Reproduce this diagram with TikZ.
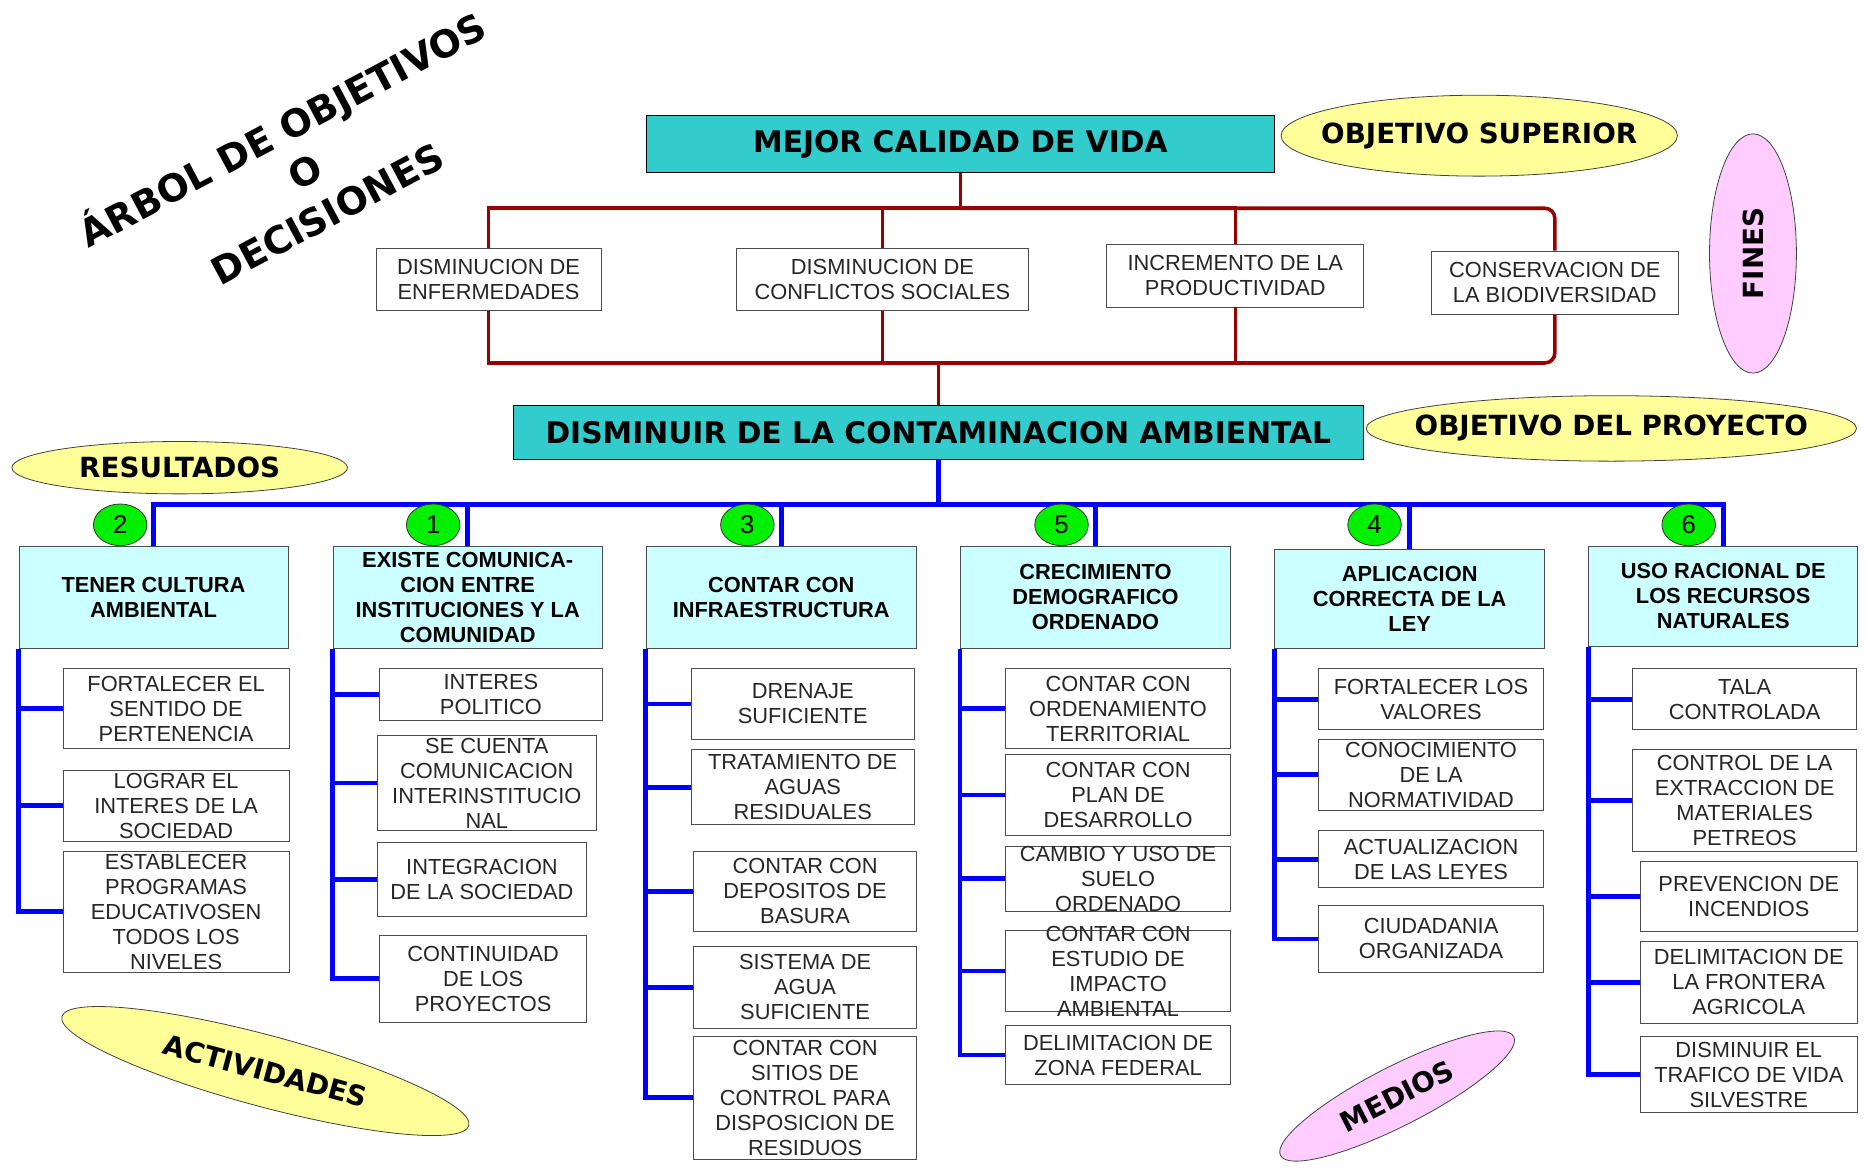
\documentclass[tikz,border=0pt]{standalone}
\usepackage{fontspec}
\setmainfont{Liberation Sans}
\newfontfamily\headfont{DejaVu Sans}
\usepackage{tikz}
\usetikzlibrary{calc,positioning,shapes.geometric}
\definecolor{tealc}{HTML}{33CCCC}
\definecolor{cyanl}{HTML}{CCFFFF}
\definecolor{yellowc}{HTML}{FFFF99}
\definecolor{pinkc}{HTML}{FFCCFF}
\definecolor{greenc}{HTML}{00F000}
\definecolor{redc}{HTML}{990000}
\newdimen\pxu \pxu=0.6pt
\newcommand{\abox}[3]{\parbox[c][#2\pxu][c]{#1\pxu}{\centering #3}}
\newcommand{\olab}[1]{\makebox[0pt]{#1}}

\begin{document}
\begin{tikzpicture}[x=0.6pt, y=-0.6pt,
    sz/.style 2 args={minimum width=#1*0.6pt, minimum height=#2*0.6pt},
    headbox/.style={draw=black, fill=tealc, inner sep=0pt, font=\headfont\bfseries\fontsize{15}{18}\selectfont},
    ovalbox/.style={ellipse, draw=black!75, inner sep=0pt, font=\headfont\bfseries\fontsize{14}{16}\selectfont},
    finbox/.style={draw=black!70, fill=white, inner sep=0pt, text=black!85, font=\fontsize{11}{12.6}\selectfont},
    resbox/.style={finbox, fill=cyanl, text=black, font=\bfseries\fontsize{11}{12.6}\selectfont},
    numbox/.style={ellipse, draw=black!80, fill=greenc, inner sep=0pt, sz={45}{35}, font=\fontsize{13}{15}\selectfont},
    redl/.style={draw=redc, line width=1.8pt},
    bluel/.style={draw=blue, line width=2.4pt}]
    \useasboundingbox (0,0) rectangle (1568,983);

    \node[align=center, rotate=28, font=\headfont\bfseries\fontsize{19}{24}\selectfont] (ttl) at (255,142) {ÁRBOL DE OBJETIVOS\\O\\DECISIONES};

    \node[headbox, sz={528}{48}] (mejor) at (807,121) {MEJOR CALIDAD DE VIDA};
    \node[ovalbox, fill=yellowc, sz={333}{68}] (sup) at (1243,114) {\olab{OBJETIVO SUPERIOR}};
    \node[ovalbox, fill=pinkc, sz={73}{201}] (fines) at (1473,213) {\rotatebox{90}{FINES}};

    \node[finbox] (f1) at (410.5,235) {\abox{189}{52}{DISMINUCION DE\\ENFERMEDADES}};
    \node[finbox] (f2) at (741.5,235) {\abox{245}{52}{DISMINUCION DE\\CONFLICTOS SOCIALES}};
    \node[finbox] (f3) at (1038,231.5) {\abox{216}{53}{INCREMENTO DE LA\\PRODUCTIVIDAD}};
    \node[finbox] (f4) at (1306.5,237.5) {\abox{207}{53}{CONSERVACION DE\\LA BIODIVERSIDAD}};

    \node[headbox, sz={715}{45}] (proy) at (788.5,363.5) {DISMINUIR DE LA CONTAMINACION AMBIENTAL};
    \node[ovalbox, fill=yellowc, sz={412}{55}] (objp) at (1354,360) {\olab{OBJETIVO DEL PROYECTO}};
    \node[ovalbox, fill=yellowc, sz={282}{44}] (resl) at (151,393) {\olab{RESULTADOS}};

    \coordinate (rtop) at (807,175);
    \coordinate (rbot) at (788.5,305);
    \draw[redl] (mejor.south) -- (rtop);
    \draw[redl] (rtop) -| (f1.north);
    \draw[redl] (rtop) -| (f2.north);
    \draw[redl] (rtop) -| (f3.north);
    \draw[redl, rounded corners=5pt] (rtop) -| (f4.north);
    \draw[redl] (f1.south) |- (rbot);
    \draw[redl] (f2.south) |- (rbot);
    \draw[redl] (f3.south) |- (rbot);
    \draw[redl, rounded corners=5pt] (f4.south) |- (rbot);
    \draw[redl] (rbot) -- (proy.north);

    \node[resbox] (r1) at (129,502) {\abox{226}{86}{TENER CULTURA\\AMBIENTAL}};
    \node[resbox] (r2) at (393,502) {\abox{226}{86}{EXISTE COMUNICA-\\CION ENTRE\\INSTITUCIONES Y LA\\COMUNIDAD}};
    \node[resbox] (r3) at (656.5,502) {\abox{227}{86}{CONTAR CON\\INFRAESTRUCTURA}};
    \node[resbox] (r4) at (920.5,502) {\abox{227}{86}{CRECIMIENTO\\DEMOGRAFICO\\ORDENADO}};
    \node[resbox] (r5) at (1184.5,503.5) {\abox{227}{83}{APLICACION\\CORRECTA DE LA\\LEY}};
    \node[resbox] (r6) at (1448,501) {\abox{226}{84}{USO RACIONAL DE\\LOS RECURSOS\\NATURALES}};

    \coordinate (bbus) at (788.5,424);
    \draw[bluel] (proy.south) -- (bbus);
    \foreach \r in {r1,r2,r3,r4,r5,r6} {
        \draw[bluel] (bbus) -| (\r.north);
    }

    \foreach \n/\x in {2/101, 1/364, 3/628, 5/892, 4/1155, 6/1419} {
        \node[numbox] (n\n) at (\x,441) {\n};
    }

    \node[finbox] (a11) at (148,595.5) {\abox{190}{67}{FORTALECER EL\\SENTIDO DE\\PERTENENCIA}};
    \node[finbox] (a12) at (148,677) {\abox{190}{60}{LOGRAR EL\\INTERES DE LA\\SOCIEDAD}};
    \node[finbox] (a13) at (148,766) {\abox{190}{102}{ESTABLECER\\PROGRAMAS\\EDUCATIVOSEN\\TODOS LOS\\NIVELES}};

    \node[finbox] (a21) at (412.5,583.5) {\abox{187}{43}{INTERES\\POLITICO}};
    \node[finbox] (a22) at (409,658) {\abox{184}{80}{SE CUENTA\\COMUNICACION\\INTERINSTITUCIO\\NAL}};
    \node[finbox] (a23) at (405,739) {\abox{176}{62}{INTEGRACION\\DE LA SOCIEDAD}};
    \node[finbox] (a24) at (406,822.5) {\abox{174}{73}{CONTINUIDAD\\DE LOS\\PROYECTOS}};

    \node[finbox] (a31) at (674.5,591.5) {\abox{187}{59}{DRENAJE\\SUFICIENTE}};
    \node[finbox] (a32) at (674.5,661.5) {\abox{187}{63}{TRATAMIENTO DE\\AGUAS\\RESIDUALES}};
    \node[finbox] (a33) at (676.5,749) {\abox{187}{68}{CONTAR CON\\DEPOSITOS DE\\BASURA}};
    \node[finbox] (a34) at (676.5,829.5) {\abox{187}{69}{SISTEMA DE\\AGUA\\SUFICIENTE}};
    \node[finbox] (a35) at (676.5,922.5) {\abox{187}{103}{CONTAR CON\\SITIOS DE\\CONTROL PARA\\DISPOSICION DE\\RESIDUOS}};

    \node[finbox] (a41) at (939.5,595.5) {\abox{189}{67}{CONTAR CON\\ORDENAMIENTO\\TERRITORIAL}};
    \node[finbox] (a42) at (939.5,668) {\abox{189}{68}{CONTAR CON\\PLAN DE\\DESARROLLO}};
    \node[finbox] (a43) at (939.5,738.5) {\abox{189}{55}{CAMBIO Y USO DE\\SUELO\\ORDENADO}};
    \node[finbox] (a44) at (939.5,816) {\abox{189}{68}{CONTAR CON\\ESTUDIO DE\\IMPACTO\\AMBIENTAL}};
    \node[finbox] (a45) at (939.5,886.5) {\abox{189}{49}{DELIMITACION DE\\ZONA FEDERAL}};

    \node[finbox] (a51) at (1202.5,587.5) {\abox{189}{51}{FORTALECER LOS\\VALORES}};
    \node[finbox] (a52) at (1202.5,651) {\abox{189}{60}{CONOCIMIENTO\\DE LA\\NORMATIVIDAD}};
    \node[finbox] (a53) at (1202.5,722) {\abox{189}{48}{ACTUALIZACION\\DE LAS LEYES}};
    \node[finbox] (a54) at (1202.5,789) {\abox{189}{56}{CIUDADANIA\\ORGANIZADA}};

    \node[finbox] (a61) at (1466,587.5) {\abox{188}{51}{TALA\\CONTROLADA}};
    \node[finbox] (a62) at (1466,672.5) {\abox{188}{85}{CONTROL DE LA\\EXTRACCION DE\\MATERIALES\\PETREOS}};
    \node[finbox] (a63) at (1469.5,753.5) {\abox{183}{59}{PREVENCION DE\\INCENDIOS}};
    \node[finbox] (a64) at (1469.5,825.5) {\abox{183}{69}{DELIMITACION DE\\LA FRONTERA\\AGRICOLA}};
    \node[finbox] (a65) at (1469.5,903) {\abox{183}{64}{DISMINUIR EL\\TRAFICO DE VIDA\\SILVESTRE}};

    \foreach \a/\r in {a11/r1, a12/r1, a13/r1, a21/r2, a22/r2, a23/r2, a24/r2,
                      a31/r3, a32/r3, a33/r3, a34/r3, a35/r3,
                      a41/r4, a42/r4, a43/r4, a44/r4, a45/r4,
                      a51/r5, a52/r5, a53/r5, a54/r5,
                      a61/r6, a62/r6, a63/r6, a64/r6, a65/r6} {
        \draw[bluel] (\r.south west) |- (\a.west);
    }

    \node[ovalbox, fill=yellowc, sz={354}{60}, rotate=-15] (actl) at (223,900) {\olab{ACTIVIDADES}};
    \node[ovalbox, fill=pinkc, sz={220}{50}, rotate=27] (medl) at (1174,921) {\olab{MEDIOS}};
\end{tikzpicture}
\end{document}
